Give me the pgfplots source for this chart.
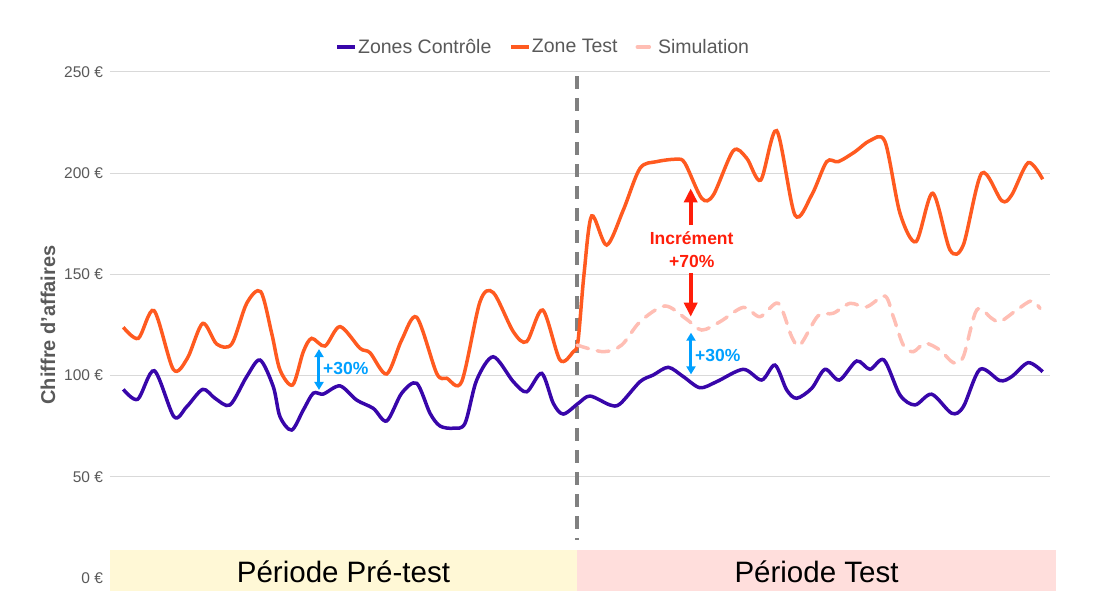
\documentclass[border=0pt]{standalone}
\usepackage{fontspec}
\setmainfont{Liberation Sans}
\usepackage{pgfplots}
\pgfplotsset{compat=1.18}
\usetikzlibrary{arrows.meta}
\definecolor{ctrl}{RGB}{56,6,170}
\definecolor{testc}{RGB}{255,90,32}
\definecolor{simc}{RGB}{255,190,180}
\definecolor{gridc}{RGB}{217,217,217}
\definecolor{txt}{RGB}{89,89,89}
\definecolor{dashc}{RGB}{128,128,128}
\definecolor{byel}{RGB}{255,248,214}
\definecolor{bpink}{RGB}{255,222,220}
\definecolor{cblue}{RGB}{0,160,255}
\definecolor{cred}{RGB}{255,30,10}
\begin{document}
\begin{tikzpicture}
\begin{axis}[
  at={(0,0)}, anchor=south west,
  scale only axis, width=940bp, height=506bp,
  xmin=110, xmax=1050, ymin=0, ymax=250,
  clip=false,
  axis line style={draw=none},
  xtick=\empty,
  ytick={0,50,100,150,200,250},
  yticklabels={0 €,50 €,100 €,150 €,200 €,250 €},
  major tick length=0pt,
  ymajorgrids, grid style={gridc, line width=1bp},
  yticklabel style={font=\fontsize{15.5bp}{18bp}\selectfont, text=txt, xshift=-3.5bp},
  ylabel={Chiffre d'affaires},
  ylabel style={font=\bfseries\fontsize{20bp}{24bp}\selectfont, text=txt, at={(axis description cs:-0.066,0.5)}, anchor=center},
  legend columns=3,
  legend style={at={(axis description cs:0.4605,1.0494)}, anchor=center, draw=none, fill=none,
    font=\fontsize{19.5bp}{23bp}\selectfont, text=txt,
    /tikz/every even column/.append style={column sep=17bp},
    nodes={inner sep=1bp}},
  legend image code/.code={\draw[#1] (0bp,0bp) -- (18bp,0bp);},
]
% bands
\fill[byel] (axis cs:110,-6.4) rectangle (axis cs:577.5,13.8);
\fill[bpink] (axis cs:577.5,-6.4) rectangle (axis cs:1056,13.8);
\node[font=\fontsize{29.5bp}{34bp}\selectfont, text=black] at (axis cs:343.5,3.2) {Période Pré-test};
\node[font=\fontsize{29.5bp}{34bp}\selectfont, text=black] at (axis cs:816.5,3.2) {Période Test};
% separator
\draw[dashc, line width=3.5bp, dash pattern=on 13bp off 9bp] (axis cs:577,248) -- (axis cs:577,19);

\addplot[ctrl, line width=3.5bp, smooth] coordinates {
(123.3,93.2) (137.7,88.3) (154.3,102.4) (174,79.7) (186.7,84.6) (202.7,93.2) (215,88.8) (230,85.5)
(246.7,99.5) (260,107.7) (273.3,94.5) (280,79.7) (291.7,73.1) (303.3,83) (313.3,91.3) (323.3,90.9)
(340,94.9) (356.7,87.9) (373.3,83.8) (386.7,77.6) (401.7,91.3) (416.7,96.2) (430,81.4) (440,75.1)
(453.3,74) (465,76.4) (476.7,97.8) (493.3,109.3) (513.3,97) (526.7,92) (541.7,101.1) (553.3,86.3)
(563.3,81) (578.3,86.3) (590,89.9) (610,85.5) (620,86) (640,97) (653.3,100.3) (668.3,104.1)
(683.3,99.5) (700,94) (716.7,97) (743.3,103.1) (761.7,97.8) (775,105.2) (786.7,92.9) (796.7,88.8)
(811.7,93.7) (825,103.1) (839.3,97.8) (856.7,107.2) (870,103.1) (884,107.7) (900,90.4) (915,85.5)
(931.7,90.8) (951.7,81.4) (963.3,84.6) (980,103.1) (1000,97.5) (1011.7,99.5) (1028.3,106.4) (1042.7,101.9)
};
\addlegendentry{Zones Contrôle}

\addplot[testc, line width=3.5bp, smooth] coordinates {
(123.3,123.9) (138.3,118.4) (154,132.1) (173.3,103.1) (187.3,108.5) (202.7,125.8) (216.7,115.6) (231.7,115.6)
(246.7,135.7) (260.7,141.5) (271.7,120.9) (280,102.8) (292.7,95.4) (303.3,111.8) (311.7,118.4) (325,114.6)
(340,124.2) (360,113.5) (370,111.3) (386.7,100.8) (401.7,117.6) (416.7,128.8) (436.7,101.1) (446.7,98.7)
(461.7,97) (480,136.5) (493.3,141) (513.3,121.7) (526.7,116.8) (542.7,132.4) (560,107.7) (573.3,111.8)
(578,117) (584,150) (591.7,178.9) (606.7,164.5) (623.3,181.8) (640,202.4) (656.7,205.7) (676.7,206.9)
(685,204.9) (701.7,187.6) (713.3,189.2) (733.3,211.1) (746.7,207.4) (760.7,196.6) (776.7,221) (795,179.3)
(811.7,189.2) (826.7,205.7) (838.3,205.7) (855,210.6) (870,216.1) (885,215.6) (900,180.2) (916,166.2)
(932.7,190.1) (950,162.1) (963.3,164.5) (981.7,200) (1001.7,186.4) (1011.7,189.2) (1028.3,205.2) (1042.7,197)
};
\addlegendentry{Zone Test}

\addplot[simc, line width=3.5bp, line cap=round, dash pattern=on 12bp off 9bp, smooth] coordinates {
(577,115.1) (603.3,111.8) (621.7,115.1) (640,126.6) (665,134.4) (686.7,127.8) (701.7,122.5) (720,126.6)
(743.3,133.7) (760,129.1) (778.3,135.7) (791.7,119.2) (800,115.1) (818,129.5) (833.3,130.8) (850,135.7)
(866.7,134) (885,139.3) (893.3,129.1) (903.3,115.1) (913.3,111.8) (925,116) (940,112.6) (953.3,106.4)
(963.3,109.3) (976.7,132.4) (991.7,128.3) (1000,126.6) (1016.7,132.4) (1031.7,137) (1040,133.2)
};
\addlegendentry{Simulation}

% annotations
\draw[cblue, line width=3bp, {Triangle[width=9bp,length=8bp]}-{Triangle[width=9bp,length=8bp]}] (axis cs:319,113.1) -- (axis cs:319,92.9);
\node[anchor=west, inner sep=0pt, text=cblue, font=\bfseries\fontsize{17.5bp}{20bp}\selectfont] at (axis cs:323,103.3) {+30\%};
\draw[cblue, line width=3bp, {Triangle[width=9bp,length=8bp]}-{Triangle[width=9bp,length=8bp]}] (axis cs:691,121.2) -- (axis cs:691,100.6);
\node[anchor=west, inner sep=0pt, text=cblue, font=\bfseries\fontsize{17.5bp}{20bp}\selectfont] at (axis cs:695,109.7) {+30\%};
\draw[cred, line width=4bp, -{Triangle[width=13bp,length=14bp]}] (axis cs:690.7,174.4) -- (axis cs:690.7,192.5);
\draw[cred, line width=4bp, -{Triangle[width=13bp,length=14bp]}] (axis cs:690.7,150.5) -- (axis cs:690.7,129.1);
\node[inner sep=0pt, text=cred, font=\bfseries\fontsize{17.5bp}{20bp}\selectfont] at (axis cs:691.7,167.8) {Incrément};
\node[inner sep=0pt, text=cred, font=\bfseries\fontsize{17.5bp}{20bp}\selectfont] at (axis cs:691.7,156.3) {+70\%};
\end{axis}
\pgfresetboundingbox
\path[use as bounding box] (-110bp,-34bp) rectangle (989bp,578bp);
\end{tikzpicture}
\end{document}
